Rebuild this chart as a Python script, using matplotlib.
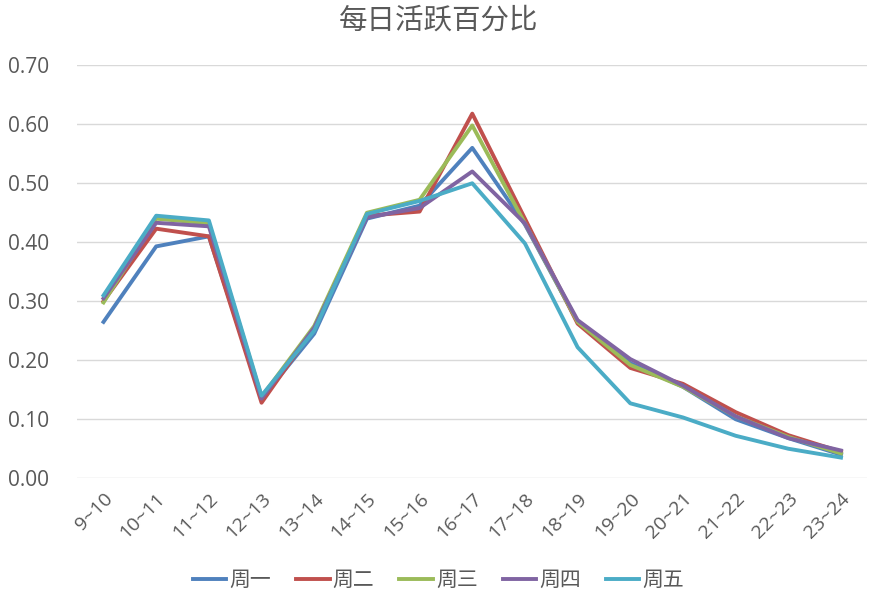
import matplotlib
matplotlib.use("Agg")
import matplotlib.pyplot as plt

plt.rcParams['font.family'] = ['Open Sans', 'Noto Sans CJK SC', 'DejaVu Sans']

hours = ["9~10", "10~11", "11~12", "12~13", "13~14", "14~15", "15~16", "16~17",
         "17~18", "18~19", "19~20", "20~21", "21~22", "22~23", "23~24"]
names = ["周一", "周二", "周三", "周四", "周五"]
mon = [0.265, 0.393, 0.410, 0.135, 0.245, 0.440, 0.462, 0.560, 0.430, 0.265, 0.195, 0.155, 0.100, 0.068, 0.040]
tue = [0.300, 0.423, 0.410, 0.128, 0.255, 0.445, 0.452, 0.618, 0.440, 0.262, 0.187, 0.160, 0.112, 0.073, 0.045]
wed = [0.298, 0.440, 0.432, 0.138, 0.258, 0.450, 0.472, 0.598, 0.432, 0.265, 0.192, 0.155, 0.105, 0.070, 0.042]
thu = [0.305, 0.433, 0.427, 0.135, 0.255, 0.442, 0.458, 0.520, 0.432, 0.268, 0.202, 0.157, 0.105, 0.068, 0.047]
fri = [0.310, 0.445, 0.437, 0.140, 0.250, 0.448, 0.470, 0.500, 0.398, 0.222, 0.127, 0.103, 0.072, 0.050, 0.035]
colors = ["#4F81BD", "#C0504D", "#9BBB59", "#8064A2", "#4BACC6"]

fig = plt.figure(figsize=(8.77, 6.10), dpi=100)
ax = fig.add_axes([0.088, 0.216, 0.901, 0.677])

x = range(len(hours))
for vals, name, c in zip([mon, tue, wed, thu, fri], names, colors):
    ax.plot(x, vals, color=c, linewidth=2.8, label=name, solid_joinstyle='round')

ax.set_xlim(-0.5, len(hours) - 0.5)
ax.set_ylim(0, 0.70)
ax.set_yticks([i / 10 for i in range(8)])
ax.set_yticklabels(["%.2f" % (i / 10) for i in range(8)])
ax.set_xticks(list(x))
ax.set_xticklabels(hours, rotation=45, ha='right', rotation_mode='anchor')
ax.grid(axis='y', color='#D9D9D9', linewidth=1)
ax.set_axisbelow(True)
for s in ax.spines.values():
    s.set_visible(False)
ax.tick_params(length=0, colors='#595959')
ax.tick_params(axis='y', pad=20, labelsize=15)
ax.tick_params(axis='x', pad=8, labelsize=14)

fig.suptitle("每日活跃百分比", y=0.99, fontsize=20.5, color='#595959',
             family=['Noto Sans CJK SC'])
fig.legend(loc='lower center', ncol=5, bbox_to_anchor=(0.5, 0.0), frameon=False,
           prop={'family': 'Noto Sans CJK SC', 'size': 15}, labelcolor='#595959',
           handlelength=1.6, columnspacing=1.2, handletextpad=0.15)

fig.savefig("out.png", dpi=100)
